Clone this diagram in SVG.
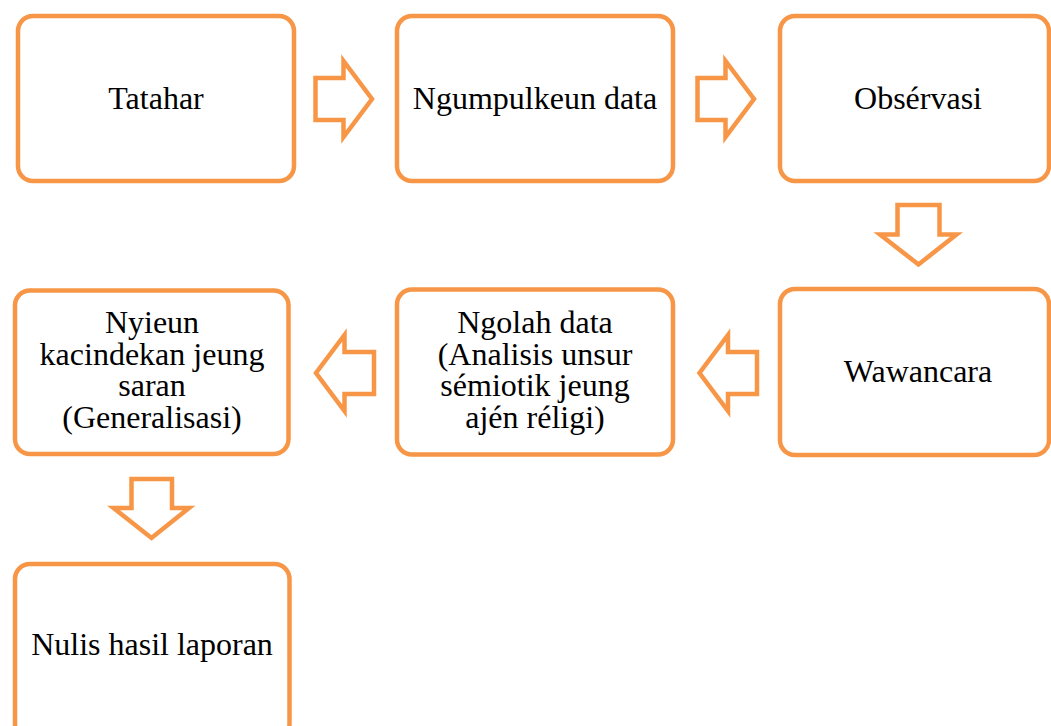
<svg xmlns="http://www.w3.org/2000/svg" width="1051" height="726" viewBox="0 0 1051 726">
<style>
.box{fill:#fff;stroke:#F79646;stroke-width:4.5}
.arr{fill:#fff;stroke:#F79646;stroke-width:4.5;stroke-linejoin:miter;stroke-miterlimit:10}
.t{font-family:'Liberation Serif','Times New Roman',Times,serif;font-size:32px;fill:#000;text-anchor:middle}
</style>
<rect width="1051" height="726" fill="#fff"/>
<g id="connectors">
<polygon class="arr" points="315.5,78 343.5,78 343.5,61 372,99 343.5,137 343.5,120 315.5,120"/>
<polygon class="arr" points="697.5,78 725.5,78 725.5,61 754,99 725.5,137 725.5,120 697.5,120"/>
<polygon class="arr" points="897.5,205 939.5,205 939.5,234.5 956.5,234.5 918.5,264.5 880,234.5 897.5,234.5"/>
<polygon class="arr" points="757,352 728,352 728,335 699.5,373 728,411 728,394 757,394"/>
<polygon class="arr" points="374,352 344.5,352 344.5,335 316,373 344.5,411 344.5,394 374,394"/>
<polygon class="arr" points="131.5,479 172,479 172,508 189,508 151.5,538 113.5,508 131.5,508"/>
</g>
<g font-family="Liberation Serif, serif">
<g id="n1"><rect class="box" x="18" y="16" width="276" height="165" rx="15"/><text class="t" font-family="Liberation Serif, serif" x="156" y="109">Tatahar</text></g>
<g id="n2"><rect class="box" x="397" y="16" width="276" height="165" rx="15"/><text class="t" font-family="Liberation Serif, serif" x="535" y="109">Ngumpulkeun data</text></g>
<g id="n3"><rect class="box" x="780" y="16" width="269" height="165" rx="15"/><text class="t" font-family="Liberation Serif, serif" x="918" y="109">Obsérvasi</text></g>
<g id="n4"><rect class="box" x="780" y="289" width="269" height="166" rx="15"/><text class="t" font-family="Liberation Serif, serif" x="918" y="382">Wawancara</text></g>
<g id="n5"><rect class="box" x="397" y="289.5" width="276" height="165" rx="15"/><text class="t" font-family="Liberation Serif, serif" x="535" y="333.3">Ngolah data</text><text class="t" font-family="Liberation Serif, serif" x="535" y="364.8">(Analisis unsur</text><text class="t" font-family="Liberation Serif, serif" x="535" y="396.3">sémiotik jeung</text><text class="t" font-family="Liberation Serif, serif" x="535" y="427.8">ajén réligi)</text></g>
<g id="n6"><rect class="box" x="15" y="290.5" width="273.5" height="163.5" rx="15"/><text class="t" font-family="Liberation Serif, serif" x="152" y="333.3">Nyieun</text><text class="t" font-family="Liberation Serif, serif" x="152" y="364.8">kacindekan jeung</text><text class="t" font-family="Liberation Serif, serif" x="152" y="396.3">saran</text><text class="t" font-family="Liberation Serif, serif" x="152" y="427.8">(Generalisasi)</text></g>
<g id="n7"><rect class="box" x="15" y="564" width="274.5" height="175" rx="15"/><text class="t" font-family="Liberation Serif, serif" x="152" y="655">Nulis hasil laporan</text></g>
</g>
</svg>
